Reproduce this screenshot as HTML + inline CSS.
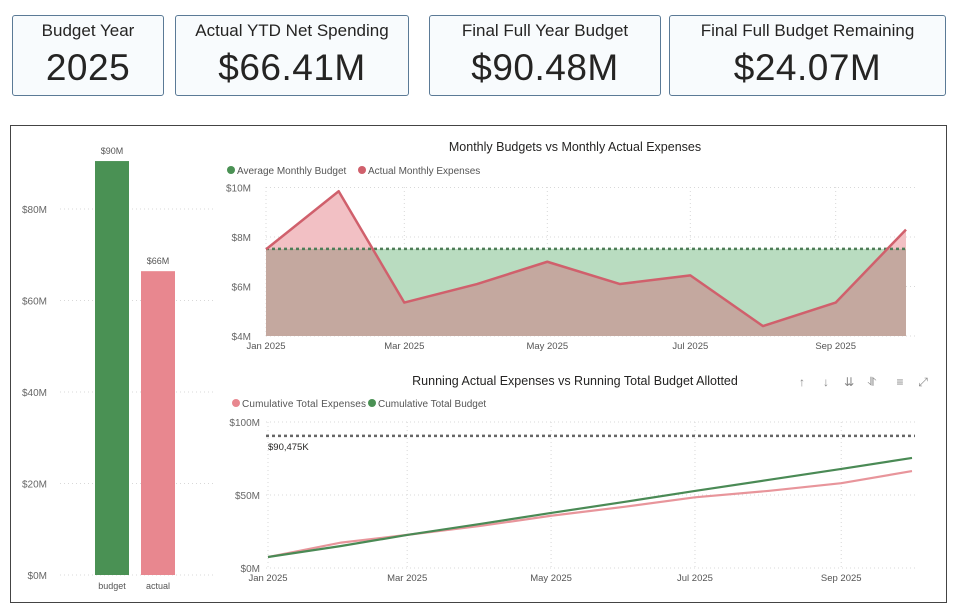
<!DOCTYPE html>
<html><head><meta charset="utf-8">
<style>
*{margin:0;padding:0;box-sizing:border-box}
body{width:966px;height:608px;background:#fff;font-family:"Liberation Sans","DejaVu Sans",sans-serif;position:relative;overflow:hidden;color:#252423}
.card{position:absolute;top:15px;height:81px;border:1px solid #5b7a96;border-radius:3px;background:#f8fbfd;text-align:center}
.card .t{font-size:17px;margin-top:5px;color:#252423}
.card .v{font-size:37px;margin-top:6px;color:#252423;letter-spacing:0.5px}
#panel{position:absolute;left:10px;top:125px;width:937px;height:478px;border:1px solid #444}
svg text{font-family:"Liberation Sans","DejaVu Sans",sans-serif}
</style></head><body>
<div class="card" style="left:12px;width:152px"><div class="t">Budget Year</div><div class="v">2025</div></div>
<div class="card" style="left:175px;width:234px"><div class="t">Actual YTD Net Spending</div><div class="v">$66.41M</div></div>
<div class="card" style="left:429px;width:232px"><div class="t">Final Full Year Budget</div><div class="v">$90.48M</div></div>
<div class="card" style="left:669px;width:277px"><div class="t">Final Full Budget Remaining</div><div class="v">$24.07M</div></div>
<div id="panel"></div>
<svg id="svg" width="966" height="608" style="position:absolute;left:0;top:0">
<defs>
<clipPath id="above"><rect id="clipA" x="0" y="0" width="966" height="0"/></clipPath>
<clipPath id="below"><rect id="clipB" x="0" y="0" width="966" height="608"/></clipPath>
</defs>
<g id="bar"></g><g id="top"></g><g id="bot"></g>
</svg>
<script>
const barCats=["budget","actual"];
const barVals=[90.48,66.41];
const barLabels=["$90M","$66M"];
const barTicks=[0,20,40,60,80];
const months=["2025-01-01","2025-02-01","2025-03-01","2025-04-01","2025-05-01","2025-06-01","2025-07-01","2025-08-01","2025-09-01","2025-10-01"];
const actualMonthly=[7.5,9.85,5.35,6.1,7.0,6.1,6.45,4.4,5.35,8.3];
const avgBudget=7.52;
const topTicks=[4,6,8,10];
const xTickDates=["2025-01-01","2025-03-01","2025-05-01","2025-07-01","2025-09-01"];
const xTickLabels=["Jan 2025","Mar 2025","May 2025","Jul 2025","Sep 2025"];
const cumExpenses=[7.5,17.4,22.7,28.8,35.8,41.9,48.4,52.8,58.1,66.4];
const cumBudget=[7.54,15.08,22.62,30.16,37.7,45.24,52.78,60.32,67.86,75.4];
const finalBudget=90.475;
const botTicks=[0,50,100];
const botTickLabels=["$0M","$50M","$100M"];

const NS="http://www.w3.org/2000/svg";
function mk(tag,attrs,parent,txt){const e=document.createElementNS(NS,tag);for(const k in attrs)e.setAttribute(k,attrs[k]);if(txt!==undefined)e.textContent=txt;parent.appendChild(e);return e;}
const day=d=>(new Date(d)-new Date("2025-01-01"))/864e5;

// Bar chart
const gb=document.getElementById('bar');
const by=v=>575-v*4.575;
barTicks.forEach(t=>{
  mk('line',{x1:60,x2:215,y1:by(t),y2:by(t),stroke:'#d8d8d8','stroke-dasharray':'1,3'},gb);
  const e=mk('text',{x:47,y:by(t)+4,'font-size':10,'text-anchor':'end',fill:'#666'},gb,'$'+t+'M');
  
  
});
const barCols=['#4a9154','#e8878f'];
barCats.forEach((c,i)=>{
  const x=95+i*46;
  const r=mk('rect',{x:x,y:by(barVals[i]),width:34,height:by(0)-by(barVals[i]),fill:barCols[i]},gb);
  
  
  mk('text',{x:x+17,y:by(barVals[i])-7,'font-size':9,'text-anchor':'middle',fill:'#555'},gb,barLabels[i]);
  mk('text',{x:x+17,y:589,'font-size':9,'text-anchor':'middle',fill:'#555'},gb,c);
});

// Top chart
const gt=document.getElementById('top');
const tx0=266,tx1=906,txS=(tx1-tx0)/day(months[months.length-1]);
const tx=d=>tx0+day(d)*txS;
const ty=v=>336-(v-4)*24.75;
mk('text',{x:575,y:151,'font-size':12.5,'text-anchor':'middle',fill:'#252423'},gt,'Monthly Budgets vs Monthly Actual Expenses');
mk('circle',{cx:231,cy:170,r:4,fill:'#4a9154'},gt);
mk('text',{x:237,y:174,'font-size':10,fill:'#555'},gt,'Average Monthly Budget');
mk('circle',{cx:362,cy:170,r:4,fill:'#d0606c'},gt);
mk('text',{x:368,y:174,'font-size':10,fill:'#555'},gt,'Actual Monthly Expenses');
topTicks.forEach(t=>{
  mk('line',{x1:266,x2:915,y1:ty(t),y2:ty(t),stroke:'#d8d8d8','stroke-dasharray':'1,3'},gt);
  mk('text',{x:251,y:ty(t)+4,'font-size':10,'text-anchor':'end',fill:'#666'},gt,'$'+t+'M');
});
xTickDates.forEach((d,i)=>{
  mk('line',{x1:tx(d),x2:tx(d),y1:187,y2:336,stroke:'#d8d8d8','stroke-dasharray':'1,3'},gt);
  mk('text',{x:tx(d),y:349,'font-size':9.5,'text-anchor':'middle',fill:'#555'},gt,xTickLabels[i]);
});
document.getElementById('clipA').setAttribute('height',ty(avgBudget));
document.getElementById('clipB').setAttribute('y',ty(avgBudget));
const ga=mk('rect',{x:tx0,y:ty(avgBudget),width:tx1-tx0,height:ty(4)-ty(avgBudget),fill:'#b9dcc0'},gt);


let pts=months.map((m,i)=>tx(m)+','+ty(actualMonthly[i])).join(' ');
const areaPts=tx0+','+ty(4)+' '+pts+' '+tx1+','+ty(4);
mk('polygon',{points:areaPts,fill:'#f2c0c4','clip-path':'url(#above)'},gt);
mk('polygon',{points:areaPts,fill:'#c4a89f','clip-path':'url(#below)'},gt);
const bl=mk('line',{x1:tx0,x2:tx1,y1:ty(avgBudget),y2:ty(avgBudget),stroke:'#4f7d58','stroke-width':2.5,'stroke-dasharray':'3,3'},gt);


const al=mk('polyline',{points:pts,fill:'none',stroke:'#d0606c','stroke-width':2.5,'stroke-linejoin':'round'},gt);



// Bottom chart
const gB=document.getElementById('bot');
const bx0=268,bx1=912,bxS=(bx1-bx0)/day(months[months.length-1]);
const bx=d=>bx0+day(d)*bxS;
const byy=v=>568-v*1.46;
mk('text',{x:575,y:385,'font-size':12.5,'text-anchor':'middle',fill:'#252423'},gB,'Running Actual Expenses vs Running Total Budget Allotted');
['↑','↓','⇊','⥯','≡','⤢'].forEach((s,i)=>{
  const e=mk('text',{x:[802,826,849,872,900,923][i],y:386,'font-size':12,'text-anchor':'middle',fill:'#888'},gB,s);
  
  
});
mk('circle',{cx:236,cy:403,r:4,fill:'#e8878f'},gB);
mk('text',{x:242,y:407,'font-size':10,fill:'#555','textLength':124},gB,'Cumulative Total Expenses');
mk('circle',{cx:372,cy:403,r:4,fill:'#4a9154'},gB);
mk('text',{x:378,y:407,'font-size':10,fill:'#555'},gB,'Cumulative Total Budget');
botTicks.forEach((t,i)=>{
  mk('line',{x1:266,x2:915,y1:byy(t),y2:byy(t),stroke:'#d8d8d8','stroke-dasharray':'1,3'},gB);
  mk('text',{x:260,y:byy(t)+4,'font-size':10,'text-anchor':'end',fill:'#666'},gB,botTickLabels[i]);
});
xTickDates.forEach((d,i)=>{
  mk('line',{x1:bx(d),x2:bx(d),y1:422,y2:568,stroke:'#d8d8d8','stroke-dasharray':'1,3'},gB);
  mk('text',{x:bx(d),y:581,'font-size':9.5,'text-anchor':'middle',fill:'#555'},gB,xTickLabels[i]);
});
mk('line',{x1:266,x2:915,y1:byy(finalBudget),y2:byy(finalBudget),stroke:'#666','stroke-width':2.5,'stroke-dasharray':'3,3'},gB);
mk('text',{x:268,y:byy(finalBudget)+14,'font-size':9.5,fill:'#252423'},gB,'$'+finalBudget.toLocaleString('en-US',{minimumFractionDigits:3}).replace('.',',')+'K');
const ep=mk('polyline',{points:months.map((m,i)=>bx(m)+','+byy(cumExpenses[i])).join(' '),fill:'none',stroke:'#e8959b','stroke-width':2.2},gB);


const bp=mk('polyline',{points:months.map((m,i)=>bx(m)+','+byy(cumBudget[i])).join(' '),fill:'none',stroke:'#4a8a55','stroke-width':2.2},gB);


</script>
</body></html>
